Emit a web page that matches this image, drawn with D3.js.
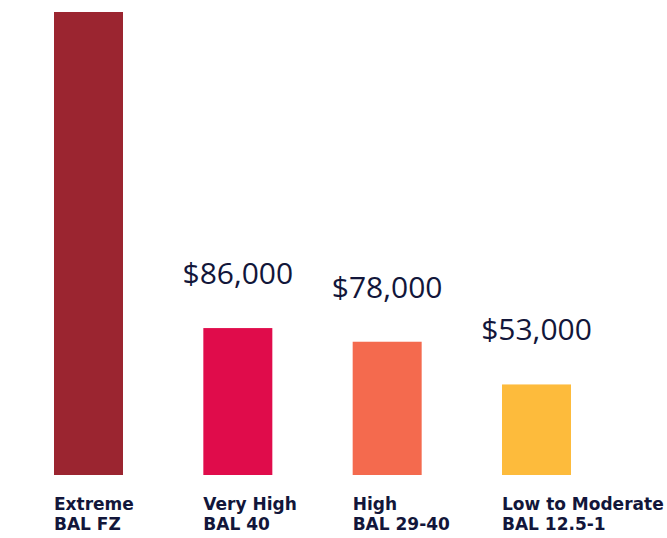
<!DOCTYPE html>
<html>
<head>
<meta charset="utf-8">
<script src="https://cdn.jsdelivr.net/npm/d3@7/dist/d3.min.js"></script>
<style>
  html, body { margin: 0; padding: 0; background: #ffffff; }
  svg { display: block; }
</style>
</head>
<body>
<svg id="chart" width="667" height="538"></svg>
<script>
const categories = ["Extreme", "Very High", "High", "Low to Moderate"];
const ratings = ["BAL FZ", "BAL 40", "BAL 29-40", "BAL 12.5-1"];
const values = [271000, 86000, 78000, 53000];
const valueLabels = ["$271,000", "$86,000", "$78,000", "$53,000"];
const colors = ["#9B2530", "#E00C4B", "#F46A4E", "#FDBB3C"];

const W = 667, H = 538;
const baseY = 475, topY = 12;
const svg = d3.select("#chart");

const x = d3.scaleBand()
  .domain(categories)
  .range([54, 571])
  .paddingInner(0.538)
  .paddingOuter(0);

const y = d3.scaleLinear()
  .domain([0, d3.max(values)])
  .range([baseY, topY]);

const data = categories.map((c, i) => ({
  cat: c, rating: ratings[i], value: values[i], label: valueLabels[i], color: colors[i]
}));

svg.selectAll("rect.bar")
  .data(data)
  .join("rect")
  .attr("class", "bar")
  .attr("x", d => x(d.cat))
  .attr("y", d => y(d.value))
  .attr("width", x.bandwidth())
  .attr("height", d => y(0) - y(d.value))
  .attr("fill", d => d.color);

// value labels (only those that fall inside the picture)
svg.selectAll("text.val")
  .data(data.filter(d => y(d.value) - 44 > 20))
  .join("text")
  .attr("class", "val")
  .attr("x", d => x(d.cat) + x.bandwidth() / 2)
  .attr("y", d => y(d.value) - 44)
  .attr("text-anchor", "middle")
  .attr("font-family", "'Open Sans', sans-serif")
  .attr("font-size", 30)
  .attr("font-weight", 400)
  .attr("fill", "#12163A")
  .text(d => d.label);

const cl = svg.selectAll("text.cat")
  .data(data)
  .join("text")
  .attr("class", "cat")
  .attr("x", d => x(d.cat))
  .attr("y", y(0) + 35)
  .attr("font-family", "'DejaVu Sans', sans-serif")
  .attr("font-size", 17)
  .attr("font-weight", 700)
  .attr("fill", "#12163A");

cl.append("tspan")
  .attr("x", d => x(d.cat))
  .text(d => d.cat);
cl.append("tspan")
  .attr("x", d => x(d.cat))
  .attr("dy", 20)
  .text(d => d.rating);
</script>
</body>
</html>
